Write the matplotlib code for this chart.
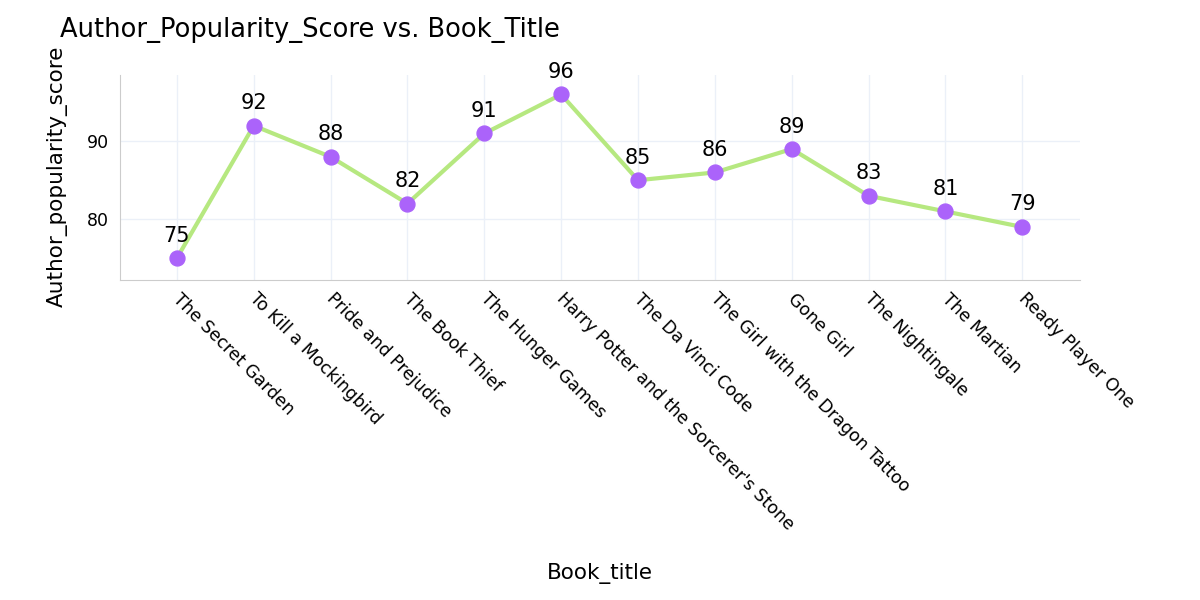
import numpy as np
import matplotlib.pyplot as plt
import matplotlib.transforms as mtransforms

book_titles = ["The Secret Garden", "To Kill a Mockingbird", "Pride and Prejudice",
               "The Book Thief", "The Hunger Games", "Harry Potter and the Sorcerer's Stone",
               "The Da Vinci Code", "The Girl with the Dragon Tattoo", "Gone Girl",
               "The Nightingale", "The Martian", "Ready Player One"]
popularity = [75, 92, 88, 82, 91, 96, 85, 86, 89, 83, 81, 79]

fig = plt.figure(figsize=(12, 6), dpi=100)
ax = fig.add_axes([120 / 1200, 1 - 280 / 600, 960 / 1200, 205 / 600])

x = np.arange(len(book_titles))
ax.plot(x, popularity, color='#B6E880', linewidth=3, zorder=2)
ax.scatter(x, popularity, s=115, color='#AB63FA', zorder=3)
for xi, v in zip(x, popularity):
    ax.annotate(str(v), (xi, v), xytext=(0, 9), textcoords='offset points',
                ha='center', va='bottom', fontsize=15)

ax.set_xlim(-0.74, 11.75)
ax.set_ylim(72.2, 98.5)
ax.set_yticks([80, 90])
ax.set_xticks(x)
ax.set_xticklabels(book_titles, rotation=-45, ha='left', rotation_mode='anchor', fontsize=12.5)
ax.tick_params(axis='both', length=0, labelsize=12.5)
ax.tick_params(axis='x', pad=7)
ax.tick_params(axis='y', pad=8)
# nudge the slanted labels a little to the right
shift = mtransforms.ScaledTranslation(5 / 100, 0, fig.dpi_scale_trans)
for lbl in ax.get_xticklabels():
    lbl.set_transform(lbl.get_transform() + shift)

ax.grid(True, color='#EBF0F8', linewidth=1)
ax.set_axisbelow(True)
for s in ['top', 'right']:
    ax.spines[s].set_visible(False)
for s in ['left', 'bottom']:
    ax.spines[s].set_color('#CCCCCC')

fig.text(60 / 1200, 1 - 30 / 600, "Author_Popularity_Score vs. Book_Title",
         fontsize=18.5, va='center', ha='left')
fig.text(600 / 1200, 1 - 573 / 600, "Book_title", fontsize=15.5, ha='center', va='center')
fig.text(57 / 1200, 1 - 176 / 600, "Author_popularity_score", fontsize=15.5,
         ha='center', va='center', rotation=90)

fig.savefig('out.png', dpi=100)
